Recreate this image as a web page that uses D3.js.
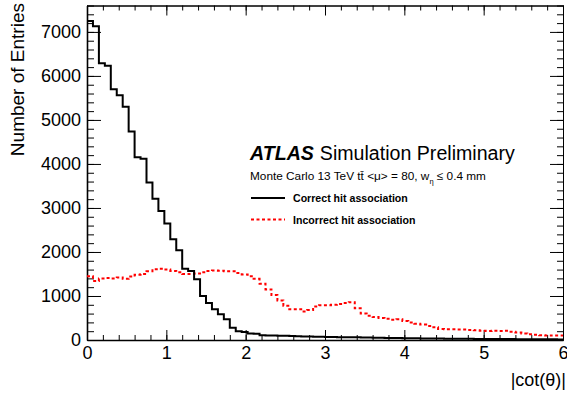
<!DOCTYPE html>
<html>
<head>
<meta charset="utf-8">
<script src="https://cdn.jsdelivr.net/npm/d3@7"></script>
<style>
body { margin: 0; background: #fff; }
text { font-family: "Liberation Sans", Arial, Helvetica, sans-serif; }
.axis path, .axis line { stroke: #000; }
.axis text { font-size: 18px; fill: #000; }
</style>
</head>
<body>
<div class="content"></div>
<script>
var size = {width: 567, height: 394};
var padding = {left: 87, right: 4, top: 5.5, bottom: 54};

// histogram binning: 80 bins of 0.075 in |cot(theta)|
var binWidth = 0.075;
var correct = [7250, 7130, 6290, 6230, 5700, 5560, 5300, 4740, 4150, 4120,
    3580, 3210, 2930, 2645, 2290, 2040, 1620, 1570, 1380, 1000,
    840, 700, 585, 470, 280, 200, 180, 150, 140, 110,
    105, 100, 95, 95, 90, 85, 80, 80, 75, 75,
    70, 70, 65, 65, 60, 60, 55, 55, 50, 50,
    48, 45, 45, 42, 40, 38, 36, 35, 33, 32,
    30, 30, 28, 27, 26, 25, 24, 23, 22, 21,
    20, 20, 19, 18, 17, 17, 16, 15, 15, 14];
var incorrect = [1450, 1340, 1400, 1410, 1400, 1420, 1390, 1440, 1480, 1500,
    1560, 1610, 1620, 1600, 1570, 1540, 1500, 1500, 1510, 1540,
    1570, 1580, 1575, 1560, 1560, 1520, 1490, 1450, 1390, 1280,
    1150, 1020, 900, 780, 700, 700, 650, 680, 760, 790,
    790, 800, 820, 840, 860, 720, 600, 550, 520, 500,
    480, 460, 470, 430, 400, 370, 350, 320, 290, 250,
    245, 245, 240, 240, 230, 220, 210, 205, 210, 205,
    210, 190, 170, 150, 130, 120, 110, 105, 100, 100];
var xTicks = [0, 1, 2, 3, 4, 5, 6];
var yTicks = [0, 1000, 2000, 3000, 4000, 5000, 6000, 7000];
var xMinorStep = 0.2, yMinorStep = 200;
var xMax = 6, yMax = 7600;

var chart = d3.select('.content')
    .append('svg:svg')
    .attr('width', size.width)
    .attr('height', size.height);

var xScale = d3.scaleLinear()
    .domain([0, xMax])
    .range([padding.left, size.width - padding.right]);
var yScale = d3.scaleLinear()
    .domain([0, yMax])
    .range([size.height - padding.bottom, padding.top]);

var x0 = xScale(0), x1 = xScale(xMax), y0 = yScale(0), y1 = yScale(yMax);

// Minor ticks first, then major ticks with labels
var xMinor = d3.range(0, xMax + 1e-6, xMinorStep);
var yMinor = d3.range(0, yMax + 1e-6, yMinorStep);

function addAxis(axis, tx, ty, cls) {
    return chart.append('g')
        .attr('class', 'axis ' + cls)
        .attr('transform', 'translate(' + tx + ',' + ty + ')')
        .call(axis);
}
addAxis(d3.axisBottom(xScale).tickValues(xMinor).tickSize(-5).tickSizeOuter(0).tickFormat(''), 0, y0, 'minor');
addAxis(d3.axisTop(xScale).tickValues(xMinor).tickSize(-5).tickSizeOuter(0).tickFormat(''), 0, y1, 'minor');
addAxis(d3.axisLeft(yScale).tickValues(yMinor).tickSize(-7).tickSizeOuter(0).tickFormat(''), x0, 0, 'minor');
addAxis(d3.axisRight(yScale).tickValues(yMinor).tickSize(-6).tickSizeOuter(0).tickFormat(''), x1, 0, 'minor');

addAxis(d3.axisBottom(xScale).tickValues(xTicks).tickSize(-10).tickSizeOuter(0).tickPadding(6).tickFormat(d3.format('d')), 0, y0, 'xmajor');
addAxis(d3.axisTop(xScale).tickValues(xTicks).tickSize(-10).tickSizeOuter(0).tickFormat(''), 0, y1, 'major');
addAxis(d3.axisLeft(yScale).tickValues(yTicks).tickSize(-14).tickSizeOuter(0).tickPadding(6).tickFormat(d3.format('d')), x0, 0, 'ymajor');
addAxis(d3.axisRight(yScale).tickValues(yTicks).tickSize(-13).tickSizeOuter(0).tickFormat(''), x1, 0, 'major');

chart.selectAll('.axis line').style('stroke-width', 1);
chart.selectAll('.axis path').style('stroke-width', 1);
chart.selectAll('.xmajor path, .ymajor path').style('stroke-width', 1.6);
chart.selectAll('.xmajor text').attr('dy', '0.72em');

// Histograms as step lines
function stepPoints(vals) {
    var pts = vals.map(function(v, i) { return [i * binWidth, v]; });
    pts.push([vals.length * binWidth, vals[vals.length - 1]]);
    return pts;
}
var line = d3.line()
    .x(function(d) { return xScale(d[0]); })
    .y(function(d) { return yScale(d[1]); })
    .curve(d3.curveStepAfter);

chart.append('path')
    .attr('d', line(stepPoints(incorrect)))
    .attr('fill', 'none')
    .attr('stroke', '#ff0000')
    .attr('stroke-width', 2)
    .attr('stroke-dasharray', '3,2.5');

chart.append('path')
    .attr('d', line(stepPoints(correct)))
    .attr('fill', 'none')
    .attr('stroke', '#000')
    .attr('stroke-width', 2);

// Axis titles
chart.append('text')
    .attr('x', size.width - 1)
    .attr('y', 386)
    .attr('text-anchor', 'end')
    .style('font-size', '18px')
    .text('|cot(θ)|');

chart.append('text')
    .attr('transform', 'translate(24,3) rotate(-90)')
    .attr('text-anchor', 'end')
    .style('font-size', '19px')
    .text('Number of Entries');

// ATLAS label
var lab = chart.append('text')
    .attr('x', 250)
    .attr('y', 160)
    .style('font-size', '19.6px');
lab.append('tspan').style('font-weight', 'bold').style('font-style', 'italic').text('ATLAS');
lab.append('tspan').attr('dx', 6).text('Simulation Preliminary');

var mc = chart.append('text')
    .attr('x', 250)
    .attr('y', 180)
    .style('font-size', '11.8px');
mc.append('tspan').text('Monte Carlo 13 TeV tt\u0304 <\u03bc> = 80, w');
mc.append('tspan').attr('dy', 4).style('font-size', '7.5px').text('\u03b7');
mc.append('tspan').attr('dy', -4).text(' \u2264 0.4 mm');

// Legend
var legendNames = ['Correct hit association', 'Incorrect hit association'];
var legendColors = ['#000', '#ff0000'];
var legendDash = [null, '3,2.5'];
var leg = chart.selectAll('g.legend').data(legendNames).enter().append('g')
    .attr('class', 'legend')
    .attr('transform', function(d, i) { return 'translate(251,' + (198 + i * 21.5) + ')'; });
leg.append('line')
    .attr('x1', 0).attr('x2', 34)
    .attr('stroke', function(d, i) { return legendColors[i]; })
    .attr('stroke-width', 2)
    .attr('stroke-dasharray', function(d, i) { return legendDash[i]; });
leg.append('text')
    .attr('x', 42)
    .attr('y', 4)
    .style('font-size', '10.6px')
    .style('font-weight', 'bold')
    .text(function(d) { return d; });
</script>
</body>
</html>
